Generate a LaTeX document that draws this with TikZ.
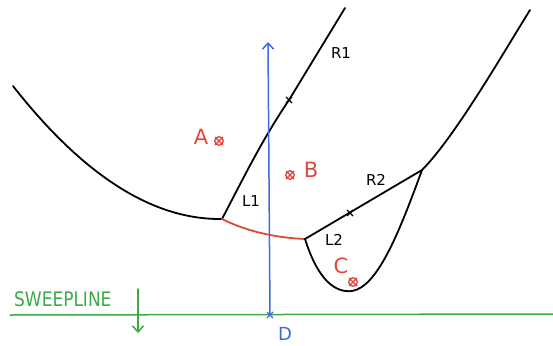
\documentclass[tikz,border=0pt]{standalone}
\usepackage{fontspec}
\setmainfont{DejaVu Sans}
\usetikzlibrary{arrows.meta}
\definecolor{hred}{RGB}{222,72,58}
\definecolor{hblue}{RGB}{60,110,220}
\definecolor{hgreen}{RGB}{60,170,70}
\tikzset{
  edge/.style={line width=1.8pt, line cap=round, line join=round},
  lbl/.style={inner sep=0pt, font=\fontsize{15}{15}\selectfont},
  big/.style={inner sep=0pt, font=\fontsize{21}{21}\selectfont},
  site/.pic={\draw[hred, line width=1.3pt] (0,0) circle (4.3) (-4,-4) -- (4,4) (-4,4) -- (4,-4);},
  tick/.pic={\draw[black, line width=1.1pt] (-3,-3) -- (3,3) (-3,3) -- (3,-3);},
}
\begin{document}
\begin{tikzpicture}[x=1pt,y=-1pt]
\useasboundingbox (0,0) rectangle (553,345);
% vertices
\coordinate (P0) at (13,86);
\coordinate (V1) at (222,219);
\coordinate (V2) at (305,239);
\coordinate (V3) at (422,170);
\coordinate (M1) at (289,100);
\coordinate (T1) at (345,8);
\coordinate (T3) at (530,10);
\coordinate (CB) at (352,291);
% left parabola
\draw[edge] (P0) .. controls (75,165) and (145,220) .. (V1);
% L1 / R1
\draw[edge] (V1) .. controls (245,175) and (262,140) .. (M1) -- (T1);
% red edge
\draw[edge, hred] (V1) .. controls (250,233) and (280,238) .. (V2);
% R2
\draw[edge] (V2) -- (V3);
% loop
\draw[edge] (V2) .. controls (318,280) and (335,293) .. (CB) .. controls (378,287) and (400,230) .. (V3);
% right edge
\draw[edge] (V3) .. controls (455,137) and (505,50) .. (T3);
% sweep line
\coordinate (S0) at (10,315);
\coordinate (S1) at (553,314);
\draw[edge, hgreen, line width=1.5pt] (S0) -- (S1);
\coordinate (SA) at (138,289);
\coordinate (SB) at (138,333);
\draw[edge, hgreen, line width=1.5pt, -{Straight Barb[length=6pt,width=11pt]}] (SA) -- (SB);
\node[lbl, hgreen, anchor=west, font=\fontsize{20}{20}\selectfont, xscale=0.85] (sw) at (14,299) {SWEEPLINE};
% blue line
\coordinate (DB) at (270,315);
\coordinate (DT) at (268,42);
\draw[edge, hblue, line width=1.5pt, -{Straight Barb[length=6pt,width=11pt]}] (DB) -- (DT);
\draw[hblue, line width=1.2pt] (267,312) -- (273,318) (267,318) -- (273,312);
\node[big, hblue, font=\fontsize{18}{18}\selectfont] (D) at (285,334) {D};
% ticks
\pic at (M1) {tick};
\pic at (350,213) {tick};
% sites
\pic at (219,141) {site};
\pic at (290,175) {site};
\pic at (353,282) {site};
\node[big, hred] (A) at (201,137) {A};
\node[big, hred] (B) at (311,170) {B};
\node[big, hred] (C) at (341,266) {C};
% labels
\node[lbl] (L1) at (251,201) {L1};
\node[lbl] (R1) at (341,53) {R1};
\node[lbl] (R2) at (376,180) {R2};
\node[lbl] (L2) at (334,240) {L2};
\end{tikzpicture}
\end{document}
